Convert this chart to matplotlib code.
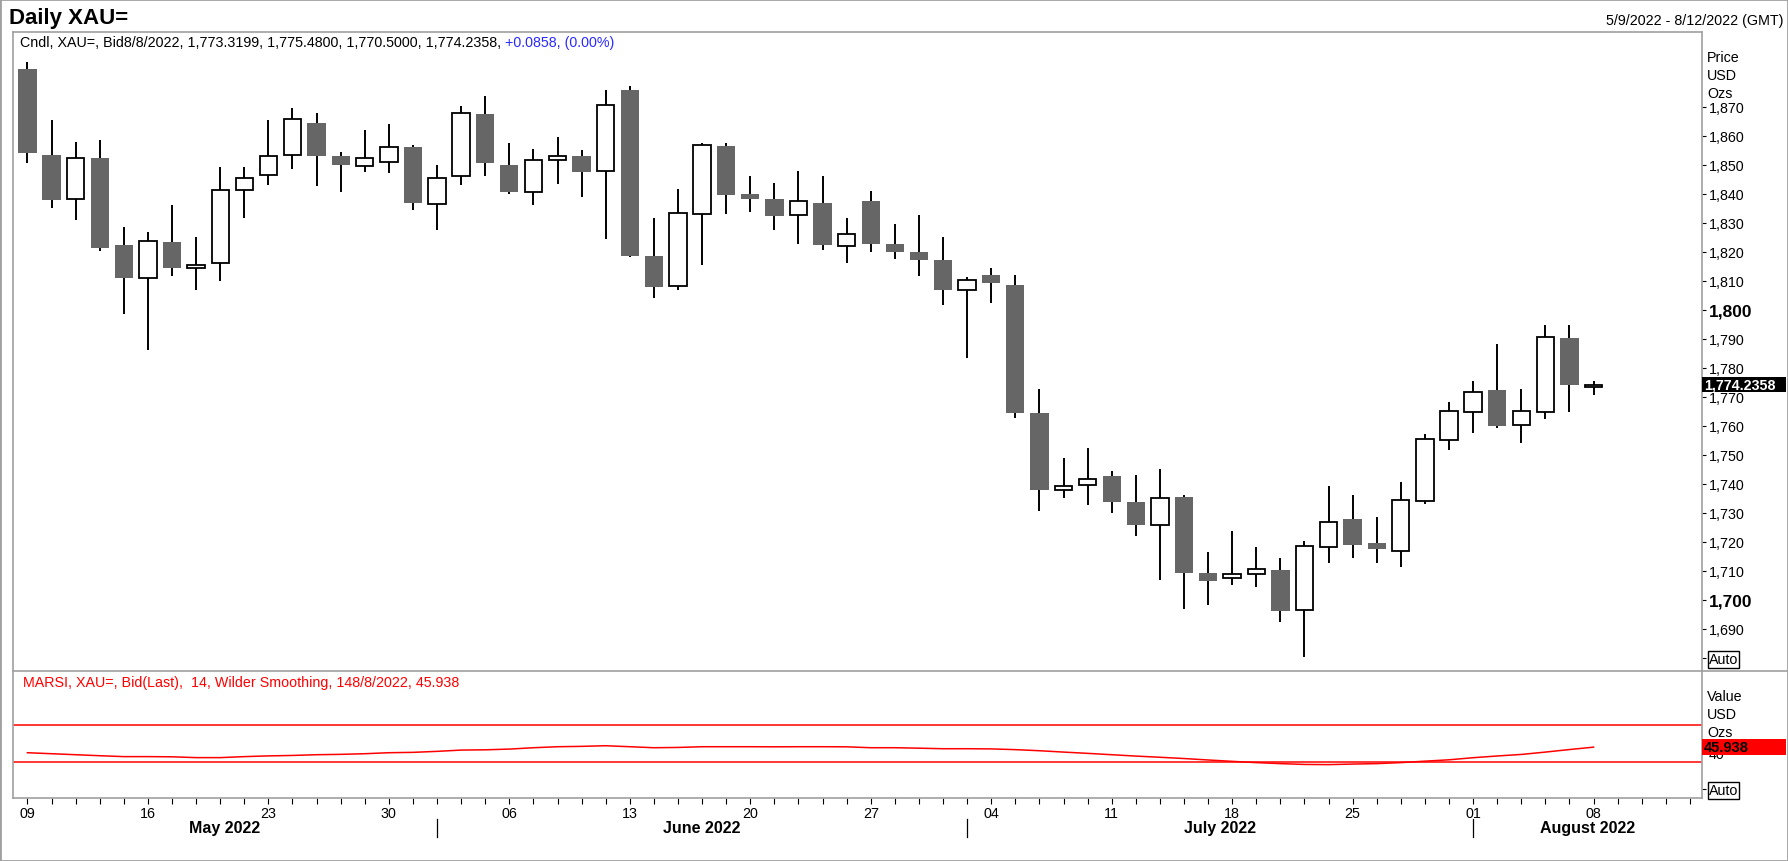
import numpy as np
import pandas as pd
import matplotlib
matplotlib.use('Agg')
import matplotlib.pyplot as plt
from matplotlib.patches import Rectangle
from matplotlib.lines import Line2D
from matplotlib.transforms import blended_transform_factory

plt.rcParams['font.family'] = ['Liberation Sans', 'DejaVu Sans']

# trading days shown on the axis (data ends 8 Aug, axis runs to 12 Aug)
dates = pd.bdate_range('2022-05-09', '2022-08-12')

# daily OHLC, XAU= bid
opens = [1883.1, 1853.4, 1838.2, 1852.4, 1822.4, 1810.9, 1823.4, 1814.5, 1816.2, 1841.4,
         1846.5, 1853.4, 1864.5, 1853.1, 1849.7, 1851.1, 1856.1, 1836.6, 1846.2, 1867.5,
         1849.9, 1840.6, 1851.7, 1853.0, 1847.9, 1875.8, 1818.6, 1808.3, 1833.2, 1856.6,
         1840.0, 1838.3, 1832.8, 1836.9, 1822.1, 1837.6, 1822.8, 1820.1, 1817.3, 1807.0,
         1812.1, 1808.6, 1764.5, 1737.9, 1739.5, 1742.8, 1733.8, 1725.9, 1735.5, 1709.3,
         1707.6, 1709.0, 1710.4, 1696.6, 1718.3, 1727.9, 1719.6, 1716.9, 1734.1, 1755.1,
         1764.9, 1772.3, 1760.2, 1764.9, 1790.3, 1773.3199]
highs = [1885.4, 1865.3, 1857.8, 1858.6, 1828.5, 1826.8, 1836.2, 1825.1, 1849.2, 1849.2,
         1865.5, 1869.5, 1867.9, 1854.3, 1862.1, 1864.1, 1857.0, 1849.9, 1870.2, 1873.7,
         1857.5, 1855.5, 1859.5, 1855.2, 1875.7, 1877.1, 1831.6, 1841.7, 1857.5, 1857.5,
         1846.2, 1843.8, 1847.8, 1846.2, 1831.6, 1840.9, 1829.7, 1832.8, 1825.1, 1811.4,
         1814.3, 1812.1, 1772.8, 1749.0, 1752.4, 1744.5, 1743.1, 1745.2, 1736.1, 1716.5,
         1723.8, 1718.3, 1714.5, 1720.2, 1739.2, 1736.2, 1728.6, 1740.7, 1757.2, 1768.2,
         1775.4, 1788.2, 1772.8, 1794.8, 1794.8, 1775.48]
lows = [1850.6, 1835.1, 1831.1, 1820.2, 1798.6, 1786.3, 1811.8, 1806.7, 1809.9, 1831.8,
        1843.1, 1848.4, 1842.6, 1840.8, 1847.4, 1847.1, 1834.3, 1827.7, 1843.2, 1846.3,
        1839.8, 1836.0, 1843.5, 1838.8, 1824.4, 1818.4, 1804.0, 1806.7, 1815.6, 1833.2,
        1833.9, 1827.7, 1822.6, 1820.8, 1816.0, 1819.8, 1817.7, 1811.6, 1801.6, 1783.3,
        1802.5, 1762.6, 1730.8, 1735.3, 1732.8, 1730.1, 1722.2, 1707.0, 1696.9, 1698.4,
        1705.3, 1704.3, 1692.3, 1680.2, 1712.9, 1714.6, 1712.9, 1711.5, 1733.2, 1751.8,
        1757.6, 1759.3, 1754.1, 1762.4, 1764.7, 1770.5]
closes = [1854.0, 1838.0, 1852.3, 1821.5, 1811.1, 1823.6, 1814.6, 1815.6, 1841.5, 1845.6,
          1853.2, 1865.9, 1853.0, 1850.1, 1852.5, 1856.0, 1837.0, 1845.6, 1868.0, 1850.8,
          1840.8, 1851.8, 1853.2, 1847.7, 1870.7, 1818.7, 1808.0, 1833.3, 1856.7, 1839.5,
          1838.1, 1832.5, 1837.4, 1822.2, 1826.0, 1822.6, 1819.8, 1817.1, 1806.7, 1810.2,
          1809.2, 1764.3, 1738.0, 1739.4, 1741.8, 1733.6, 1725.7, 1735.1, 1709.4, 1706.7,
          1708.8, 1710.8, 1696.3, 1718.5, 1726.7, 1719.1, 1717.4, 1734.3, 1755.6, 1765.2,
          1771.7, 1760.0, 1765.2, 1790.8, 1774.1, 1774.2358]

# MARSI (14, Wilder smoothing)
rsi = [39.8, 38.7, 37.6, 36.5, 35.5, 35.5, 35.3, 34.4, 34.4, 35.5,
       36.3, 36.8, 37.6, 38.0, 38.7, 39.8, 40.2, 41.3, 42.7, 43.0,
       43.8, 45.3, 46.4, 46.8, 47.5, 46.4, 45.3, 45.6, 46.4, 46.4,
       46.4, 46.3, 46.4, 46.4, 46.3, 45.3, 45.3, 44.8, 44.2, 44.2,
       44.0, 43.2, 42.0, 40.5, 39.1, 37.6, 36.1, 34.8, 33.4, 31.8,
       30.3, 28.9, 27.8, 26.9, 26.7, 27.3, 27.8, 28.9, 30.5, 32.0,
       34.3, 36.2, 37.9, 40.5, 43.3, 45.938]
rsi_levels = [70, 30]

last_price = 1774.2358
price_ticks = list(range(1680, 1871, 10))
month_names = ['May 2022', 'June 2022', 'July 2022', 'August 2022']

W, H = 1788, 862
gray = '#a0a0a0'
dark = '#666666'
fs = 10.3


def box(l, t, r, b):
    return [l / W, 1 - b / H, (r - l) / W, (b - t) / H]


fig = plt.figure(figsize=(W / 100, H / 100), dpi=100)
ax = fig.add_axes(box(13, 33, 1702, 672))
ax2 = fig.add_axes(box(13, 672, 1702, 799.3), sharex=ax)

o = np.array(opens)
h = np.array(highs)
l = np.array(lows)
c = np.array(closes)
idx = np.arange(len(o))
up = c >= o
dn = ~up

# candles
ax.vlines(idx, l, h, color='black', lw=1.4, zorder=1)
ax.bar(idx[up], (c - o)[up], bottom=o[up], width=0.72, facecolor='white',
       edgecolor='black', lw=1.3, zorder=2)
ax.bar(idx[dn], (o - c)[dn], bottom=c[dn], width=0.76, color=dark, lw=0, zorder=2)

ax.set_xlim(-0.6, 69.5)
ax.set_ylim(1675.5, 1895.8)

for a in (ax, ax2):
    for s in a.spines.values():
        s.set_color(gray)
        s.set_linewidth(1.2)
ax.spines['bottom'].set_visible(False)
ax2.spines['top'].set_visible(False)

ax.yaxis.tick_right()
ax.set_yticks(price_ticks)
ax.set_yticklabels(['Auto' if v == 1680 else f'{v:,}' for v in price_ticks])
ax.tick_params(axis='y', direction='out', length=3, width=0.8, pad=2, labelsize=fs)
ax.tick_params(axis='x', bottom=False, labelbottom=False)
for lbl in ax.get_yticklabels():
    if lbl.get_text() in ('1,800', '1,700'):
        lbl.set_fontweight('bold')
        lbl.set_fontsize(12.5)
    if lbl.get_text() == 'Auto':
        lbl.set_bbox(dict(facecolor='white', edgecolor='black', pad=0.8, lw=1))

# last price tag
bt = blended_transform_factory(ax.transAxes, ax.transData)
ax.add_patch(Rectangle((1.0, last_price - 2.6), 0.0495, 5.2, transform=bt,
                       facecolor='black', edgecolor='none', clip_on=False, zorder=5))
ax.text(1.0012, last_price, f'{last_price:,.4f}', transform=bt, color='white',
        fontweight='bold', fontsize=fs, va='center', ha='left', zorder=6, clip_on=False)

# RSI panel
ax2.plot(idx, rsi, color='red', lw=1.1)
for lv in rsi_levels:
    ax2.axhline(lv, color='red', lw=1.1)
ax2.set_ylim(-10.4, 129.8)
ax2.yaxis.tick_right()
ax2.set_yticks([0, 40])
ax2.set_yticklabels(['Auto', '40'])
ax2.tick_params(axis='y', direction='out', length=3, width=0.8, pad=2, labelsize=fs)
for lbl in ax2.get_yticklabels():
    if lbl.get_text() == 'Auto':
        lbl.set_bbox(dict(facecolor='white', edgecolor='black', pad=0.8, lw=1))

bt2 = blended_transform_factory(ax2.transAxes, ax2.transData)
ax2.add_patch(Rectangle((1.0, rsi[-1] - 8.7), 0.0495, 17.5, transform=bt2,
                        facecolor='red', edgecolor='none', clip_on=False, zorder=5))
ax2.text(1.0012, rsi[-1], f'{rsi[-1]:.3f}', transform=bt2, color='black',
         fontweight='bold', fontsize=10.5, va='center', ha='left', zorder=6, clip_on=False)

# date axis
ax2.set_xticks(range(len(dates)))
day_labels = [d.strftime('%d') if d.weekday() == 0 and i < len(o) else ''
              for i, d in enumerate(dates)]
ax2.set_xticklabels(day_labels)
ax2.tick_params(axis='x', direction='out', length=4, width=0.8, pad=1.5, labelsize=fs)

month_starts = [0] + [i for i in range(1, len(dates)) if dates[i].month != dates[i - 1].month]
xl = ax2.get_xlim()
bounds = [xl[0]] + month_starts[1:] + [xl[1]]
bf = blended_transform_factory(ax2.transData, fig.transFigure)
for k, name in enumerate(month_names):
    ax2.text((bounds[k] + bounds[k + 1]) / 2, 1 - 829 / H, name, transform=bf,
             ha='center', va='center', fontweight='bold', fontsize=11.5, clip_on=False)
for ms in month_starts[1:]:
    ax2.add_line(Line2D([ms, ms], [1 - 820 / H, 1 - 838 / H], transform=bf,
                        color='black', lw=0.9, clip_on=False))

# texts
fig.text(9 / W, 1 - 18.5 / H, 'Daily XAU=', fontsize=16, fontweight='bold', va='center')
fig.text(1783 / W, 1 - 21 / H, '5/9/2022 - 8/12/2022 (GMT)', fontsize=fs, ha='right', va='center')
t1 = fig.text(20 / W, 1 - 43 / H,
              'Cndl, XAU=, Bid8/8/2022, 1,773.3199, 1,775.4800, 1,770.5000, 1,774.2358,',
              fontsize=fs, va='center')
ax.annotate(' +0.0858, (0.00%)', xy=(1, 0.5), xycoords=t1, va='center', ha='left',
            fontsize=fs, color='#2a2aff', annotation_clip=False)
fig.text(23 / W, 1 - 683 / H,
         'MARSI, XAU=, Bid(Last),  14, Wilder Smoothing, 148/8/2022, 45.938',
         fontsize=fs, color='red', va='center')
for txt, y in (('Price', 58), ('USD', 76), ('Ozs', 94), ('Value', 697), ('USD', 715), ('Ozs', 733)):
    fig.text(1707 / W, 1 - y / H, txt, fontsize=fs, va='center')

# panel divider and outer frame
fig.add_artist(Line2D([13 / W, 1], [1 - 672 / H] * 2, color=gray, lw=1.2))
fig.add_artist(Rectangle((0, 0), 1, 1, transform=fig.transFigure, fill=False,
                         edgecolor=gray, lw=2))

plt.savefig('out.png', dpi=100)
